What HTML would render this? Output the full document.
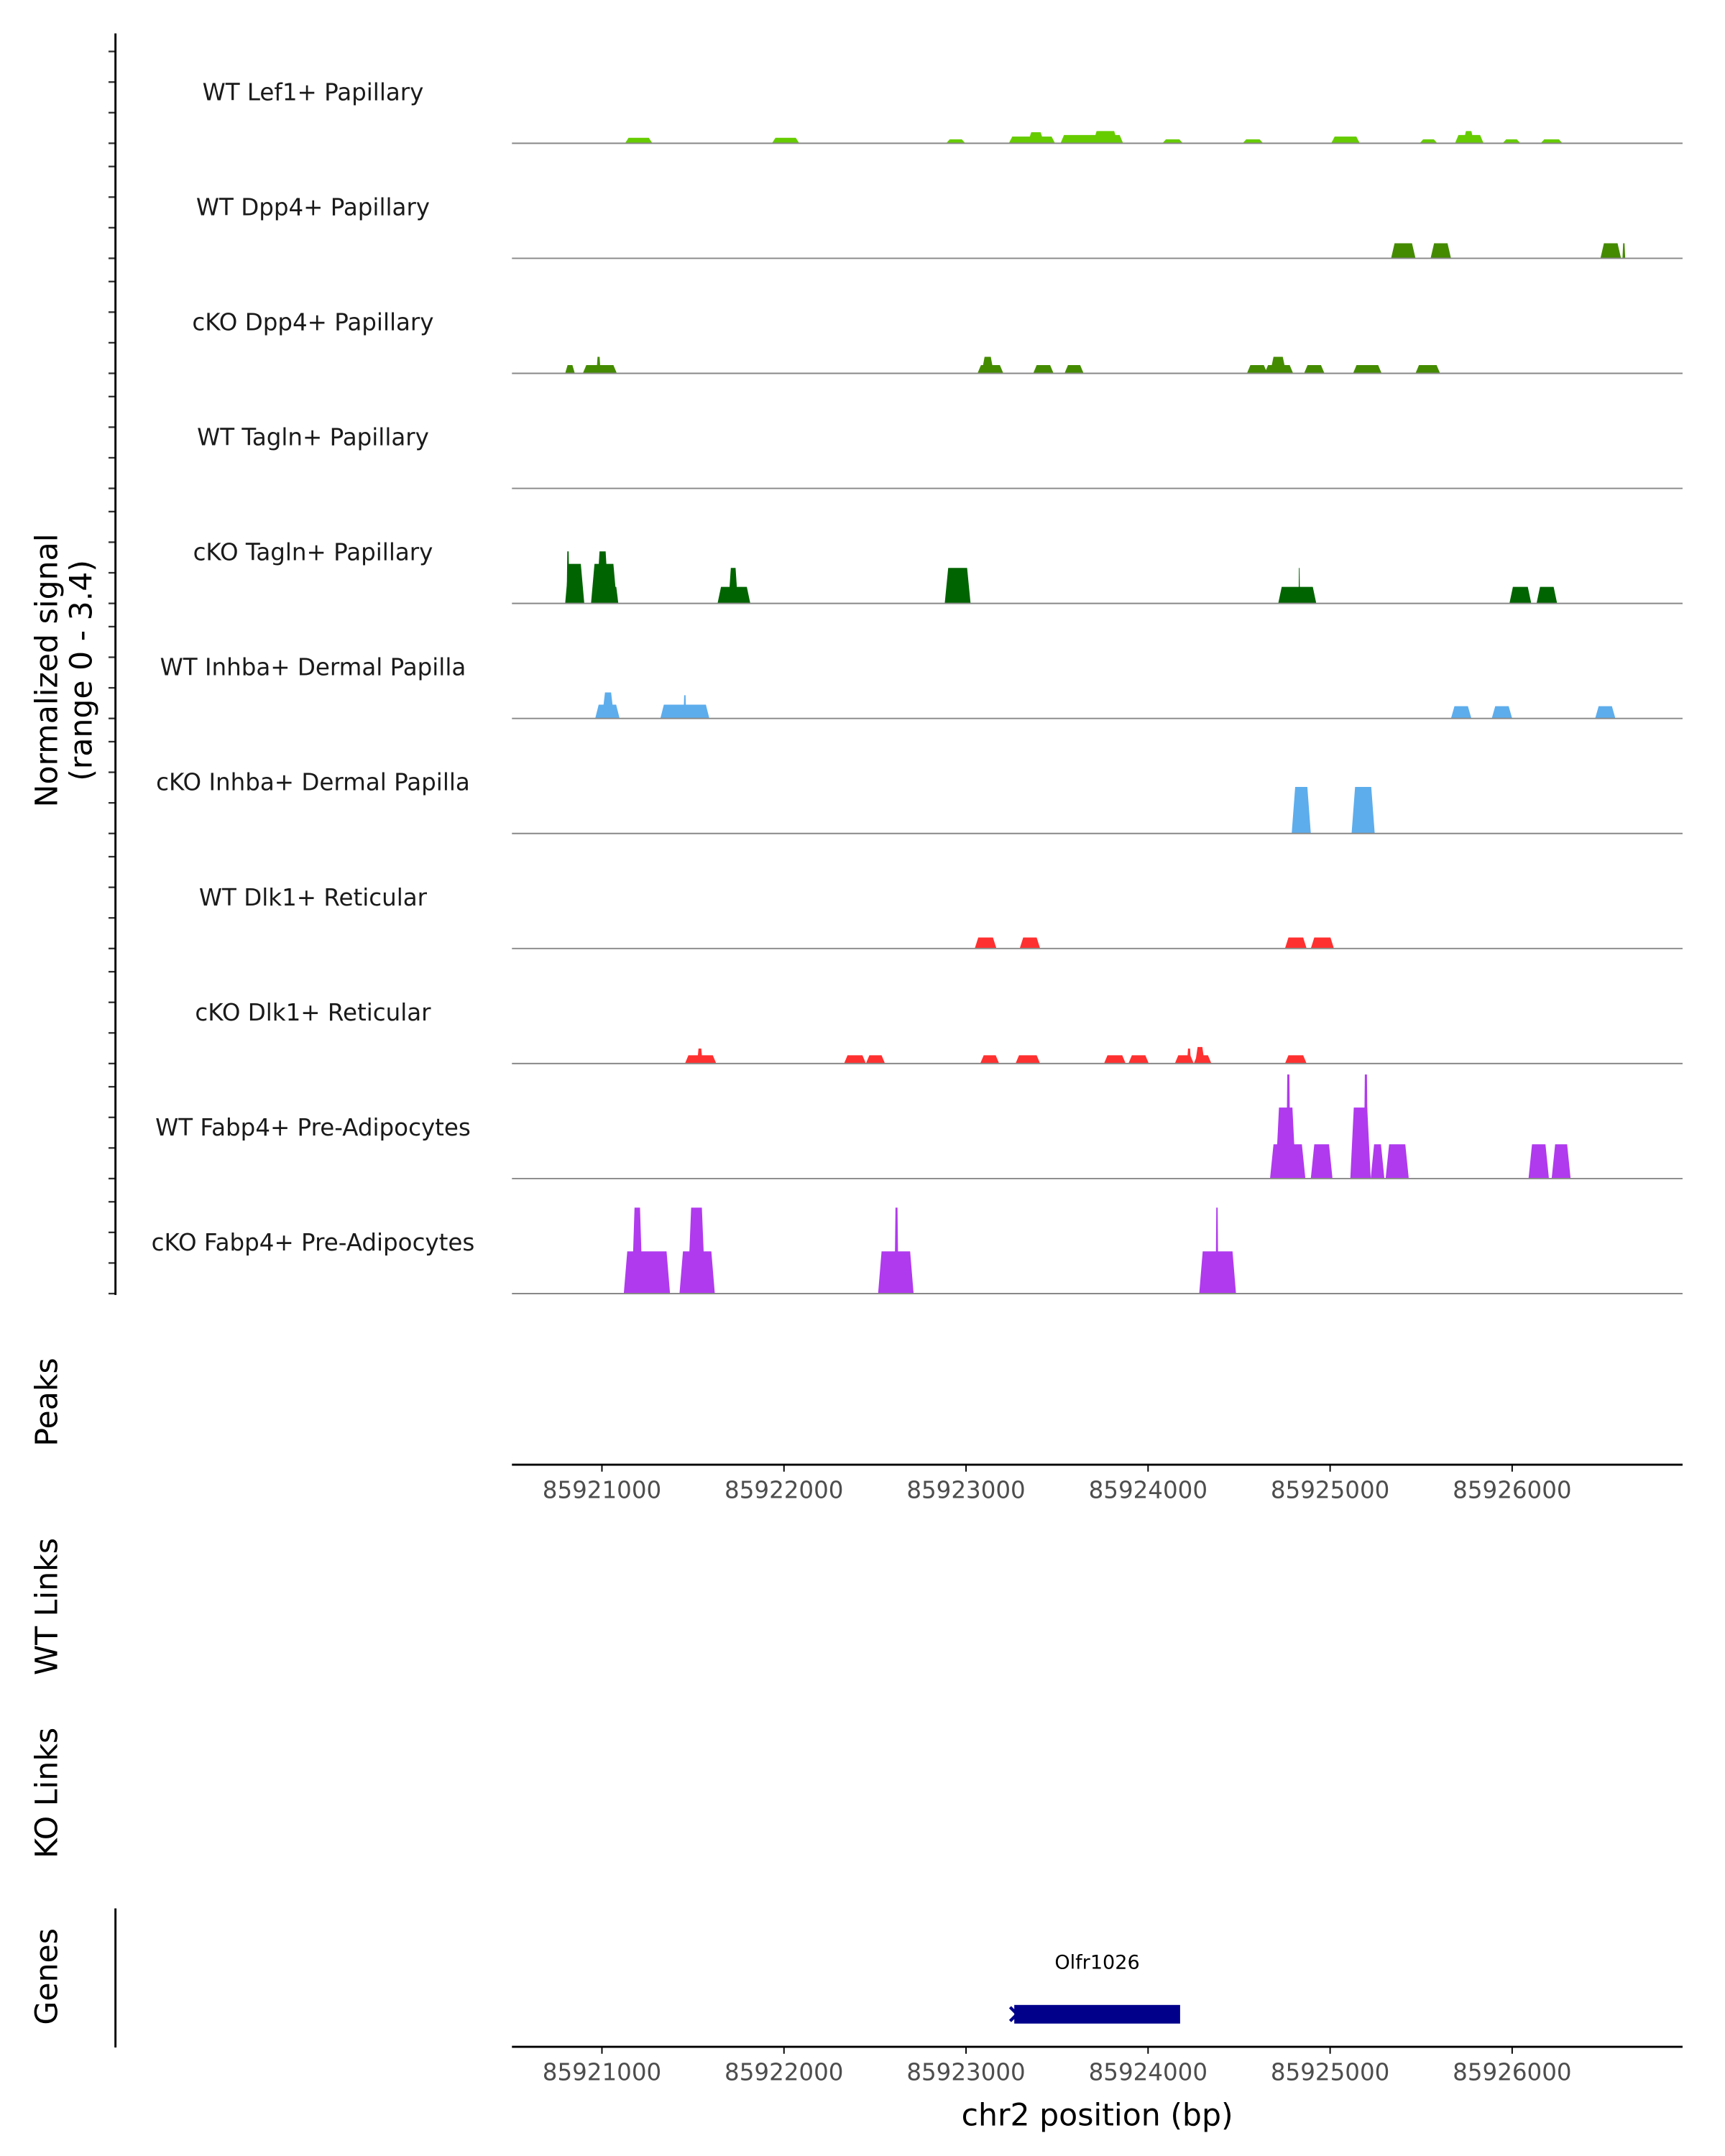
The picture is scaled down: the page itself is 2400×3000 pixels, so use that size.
<!DOCTYPE html>
<html><head><meta charset="utf-8"><style>
html,body{margin:0;padding:0;background:#fff;}
svg{display:block;font-family:"DejaVu Sans","Liberation Sans",sans-serif;}
</style></head><body>
<svg id="chart" width="2400" height="3000" viewBox="0 0 1240 1550" xmlns="http://www.w3.org/2000/svg">
<g id="tracks"></g>
<g id="axes"></g>
</svg>
<script>
const NS='http://www.w3.org/2000/svg';
const trackNames=['WT Lef1+ Papillary','WT Dpp4+ Papillary','cKO Dpp4+ Papillary','WT Tagln+ Papillary','cKO Tagln+ Papillary','WT Inhba+ Dermal Papilla','cKO Inhba+ Dermal Papilla','WT Dlk1+ Reticular','cKO Dlk1+ Reticular','WT Fabp4+ Pre-Adipocytes','cKO Fabp4+ Pre-Adipocytes'];
const trackColors=['#66cc00','#448b00','#448b00','#006400','#006400','#5dadec','#5dadec','#ff3030','#ff3030','#b03aee','#b03aee'];
// peaks: [start bp, end bp, normalized value]
const peaks0=[[85921127,85921277,0.18],[85921934,85922084,0.18],[85922891,85922996,0.13],[85923235,85923489,0.22],[85923339,85923429,0.36],[85923519,85923863,0.27],[85923698,85923833,0.4],[85924079,85924191,0.13],[85924520,85924632,0.13],[85925006,85925163,0.22],[85925492,85925589,0.13],[85925686,85925843,0.27],[85925731,85925791,0.4],[85925948,85926045,0.13],[85926157,85926276,0.13]];
const peaks1=[[85925335,85925469,0.49],[85925552,85925664,0.49],[85926485,85926598,0.49],[85926606,85926621,0.49]];
const peaks2=[[85920798,85920851,0.27],[85920895,85921082,0.27],[85920970,85920993,0.54],[85923063,85923205,0.27],[85923085,85923153,0.54],[85923369,85923481,0.27],[85923541,85923646,0.27],[85924543,85924655,0.27],[85924640,85924797,0.27],[85924670,85924759,0.54],[85924857,85924969,0.27],[85925126,85925283,0.27],[85925469,85925604,0.27]];
const peaks3=[];
const peaks4=[[85920798,85920903,1.29],[85920806,85920821,1.7],[85920940,85921082,1.29],[85920970,85921037,1.7],[85921045,85921090,0.54],[85921635,85921815,0.54],[85921695,85921747,1.16],[85922883,85923025,1.16],[85924715,85924924,0.54],[85924827,85924834,1.16],[85925985,85926105,0.54],[85926134,85926247,0.54]];
const peaks5=[[85920963,85921097,0.45],[85921000,85921067,0.85],[85921321,85921590,0.45],[85921448,85921463,0.76],[85925664,85925776,0.4],[85925888,85926000,0.4],[85926456,85926567,0.4]];
const peaks6=[[85924789,85924894,1.52],[85925118,85925245,1.52]];
const peaks7=[[85923048,85923167,0.36],[85923295,85923407,0.36],[85924752,85924871,0.36],[85924894,85925021,0.36]];
const peaks8=[[85921456,85921628,0.27],[85921523,85921553,0.49],[85922330,85922450,0.27],[85922450,85922555,0.27],[85923078,85923182,0.27],[85923272,85923407,0.27],[85923758,85923877,0.27],[85923892,85924004,0.27],[85924147,85924251,0.27],[85924214,85924236,0.49],[85924251,85924348,0.27],[85924259,85924311,0.54],[85924752,85924871,0.27]];
const peaks9=[[85924670,85924864,1.12],[85924700,85924812,2.32],[85924759,85924782,3.4],[85924894,85925013,1.12],[85925111,85925223,2.32],[85925185,85925208,3.4],[85925223,85925298,1.12],[85925305,85925432,1.12],[85926090,85926202,1.12],[85926217,85926321,1.12]];
const peaks10=[[85921120,85921374,1.38],[85921164,85921224,2.81],[85921426,85921620,1.38],[85921471,85921568,2.81],[85922517,85922712,1.38],[85922607,85922629,2.81],[85924281,85924483,1.38],[85924371,85924386,2.81]];
const allPeaks=[peaks0,peaks1,peaks2,peaks3,peaks4,peaks5,peaks6,peaks7,peaks8,peaks9,peaks10];
const yTickVals=[0,1,2,3];
const xTicks=[85921000,85922000,85923000,85924000,85925000,85926000];
const gene={name:'Olfr1026',start:85923265,end:85924176};

const X0=368,X1=1209.5,BP0=85921000,PX0=432.7,PXPERBP=0.13086;
const xs=bp=>PX0+(bp-BP0)*PXPERBP;
const TOP=20.3,TH=82.7,YSCALE=22;
const baseY=i=>TOP+TH*(i+1);
const ys=(i,v)=>baseY(i)-v*YSCALE;
function el(tag,attrs,parent,text){const e=document.createElementNS(NS,tag);for(const k in attrs)e.setAttribute(k,attrs[k]);if(text!==undefined)e.textContent=text;parent.appendChild(e);return e;}
const tracks=document.getElementById('tracks'),axes=document.getElementById('axes');
trackNames.forEach((name,i)=>{
  const g=el('g',{},tracks);
  
  
  const t=el('text',{x:225,y:baseY(i)-31,'text-anchor':'middle','font-size':16.8,fill:'#1a1a1a'},g,name);
  
  
  allPeaks[i].forEach(p=>{
    const x1=xs(p[0]),x2=xs(p[1]),yt=ys(i,p[2]),yb=baseY(i);
    const tp=Math.min(2.5,(x2-x1)/4);
    const poly=el('polygon',{points:`${x1},${yb} ${x1+tp},${yt} ${x2-tp},${yt} ${x2},${yb}`,fill:trackColors[i]},g);
    
    
  });
  const bl=el('line',{x1:X0,x2:X1,y1:baseY(i),y2:baseY(i),stroke:'#888',"stroke-width":1},g);
  
  
  yTickVals.forEach(v=>{const tk=el('line',{x1:78,x2:83,y1:ys(i,v),y2:ys(i,v),stroke:'#333','stroke-width':1.2},axes);
    
    });
});
// left y axis
const ya=el('line',{x1:83,x2:83,y1:24,y2:931,stroke:'#000','stroke-width':1.5},axes);


function vlabel(txt,x,y,size,name){const t=el('text',{x:x,y:y,transform:`rotate(-90 ${x} ${y})`,'text-anchor':'middle','font-size':size,fill:'#000'},axes,txt);
  
  }
vlabel('Normalized signal',41,482,22,'y-axis-title');
vlabel('(range 0 - 3.4)',66,482,22,'y-axis-subtitle');
vlabel('Peaks',41,1008,22,'peaks-label');
vlabel('WT Links',41,1155,22,'wt-links-label');
vlabel('KO Links',41,1289,22,'ko-links-label');
vlabel('Genes',41,1421,22,'genes-label');
const gl=el('line',{x1:83,x2:83,y1:1372,y2:1472,stroke:'#000','stroke-width':1.5},axes);


function xaxis(y,name){
  const l=el('line',{x1:X0,x2:X1,y1:y,y2:y,stroke:'#000','stroke-width':1.5},axes);
  
  
  xTicks.forEach(b=>{const tk=el('line',{x1:xs(b),x2:xs(b),y1:y,y2:y+5,stroke:'#000','stroke-width':1},axes);
    
    
    const tl=el('text',{x:xs(b),y:y+24,'text-anchor':'middle','font-size':16.8,fill:'#4d4d4d'},axes,String(b));
    
    });
}
xaxis(1053,'peaks-x-axis');
xaxis(1471.5,'genes-x-axis');
const xt=el('text',{x:(X0+X1)/2,y:1528,'text-anchor':'middle','font-size':22,fill:'#000'},axes,'chr2 position (bp)');


// gene
const gg=el('g',{},axes);


const gr=el('rect',{x:xs(gene.start),y:1441.4,width:xs(gene.end)-xs(gene.start),height:13.4,fill:'#00008b'},gg);


const ga=el('polyline',{points:`${xs(gene.start)-3},1443 ${xs(gene.start)+2},1448 ${xs(gene.start)-3},1453`,fill:'none',stroke:'#00008b','stroke-width':2.2},gg);


const gt=el('text',{x:(xs(gene.start)+xs(gene.end))/2,y:1415.5,'text-anchor':'middle','font-size':14,fill:'#000'},gg,gene.name);


</script>
</body></html>
